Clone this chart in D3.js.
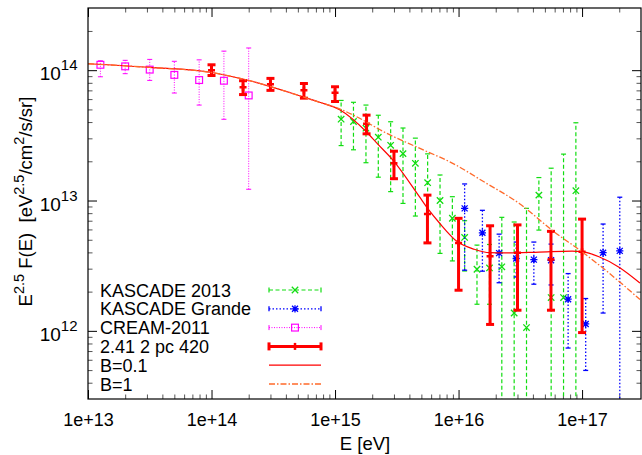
<!DOCTYPE html>
<html><head><meta charset="utf-8">
<script src="https://cdn.jsdelivr.net/npm/d3@7/dist/d3.min.js"></script>
<style>
body{margin:0;background:#fff;}
text{font-family:"Liberation Sans",Arial,Helvetica,sans-serif;fill:#000;}
</style>
</head><body>
<svg id="c" width="642" height="455"></svg>
<script>
// ---------------- data ----------------
const xTickValues = [1e13, 1e14, 1e15, 1e16, 1e17];
const xTickLabels = ["1e+13", "1e+14", "1e+15", "1e+16", "1e+17"];
const yTickValues = [1e12, 1e13, 1e14];
const yTickExponents = ["12", "13", "14"];

// KASCADE 2013
const kasE  = [1.12e15,1.41e15,1.78e15,2.24e15,2.82e15,3.55e15,4.47e15,5.62e15,7.08e15,8.91e15,1.12e16,1.41e16,1.78e16,2.24e16,2.82e16,3.55e16,4.47e16,5.62e16,7.08e16,8.91e16];
const kasF  = [4.21e13,4.04e13,3.59e13,3.06e13,2.65e13,2.29e13,1.93e13,1.37e13,1.00e13,7.31e12,5.21e12,2.97e12,3.04e12,3.10e12,1.37e12,1.06e12,1.10e13,1.80e12,1.80e12,1.19e13];
const kasHi = [5.86e13,5.67e13,5.40e13,4.51e13,4.02e13,3.60e13,3.01e13,2.28e13,1.57e13,1.07e13,7.0e12,4.55e12,4.6e12,7.43e12,6.84e12,8.71e12,1.50e13,1.77e13,2.27e13,3.95e13];
const kasLo = [2.64e13,2.45e13,1.95e13,1.51e13,1.17e13,9.5e12,7.6e12,4.69e12,3.93e12,3.44e12,2.88e12,1.60e12,1.60e12,1e11,1e11,1e11,5.93e12,1e11,1e11,1e11];

// KASCADE Grande
const graE  = [1.12e16,1.56e16,2.13e16,2.93e16,4.07e16,5.61e16,7.71e16,1.07e17,1.48e17,2.02e17];
const graF  = [8.71e12,5.65e12,3.95e12,3.59e12,3.52e12,3.48e12,1.75e12,1.13e12,3.98e12,4.11e12];
const graHi = [1.34e13,8.41e12,5.52e12,4.80e12,4.80e12,4.63e12,2.75e12,1.77e12,6.6e12,1.06e13];
const graLo = [2.92e12,2.87e12,2.34e12,2.59e12,2.28e12,2.25e12,7.38e11,4.97e11,1.37e12,1e11];

// CREAM-2011
const creE  = [1.26e13,2.0e13,3.16e13,5.0e13,7.94e13,1.26e14,2.0e14];
const creF  = [1.10e14,1.07e14,1.01e14,9.2e13,8.4e13,8.3e13,6.4e13];
const creHi = [1.18e14,1.19e14,1.21e14,1.17e14,1.20e14,1.40e14,1.48e14];
const creLo = [8.9e13,9.4e13,8.35e13,6.68e13,5.4e13,4.2e13,1.22e13];

// 2.41 2 pc 420
const modE  = [1e14,1.8e14,3e14,5.6e14,1e15,1.8e15,3e15,5.6e15,1e16,1.8e16,3e16,5.6e16,1e17];
const modF  = [1.0e14,7.4e13,7.8e13,7.0e13,6.7e13,3.88e13,1.93e13,7.87e12,4.73e12,3.74e12,3.98e12,3.53e12,4.04e12];
const modHi = [1.10e14,8.3e13,8.65e13,7.9e13,7.46e13,4.52e13,2.39e13,1.10e13,7.3e12,6.4e12,6.5e12,5.8e12,7.2e12];
const modLo = [9.1e13,6.5e13,7.0e13,6.1e13,5.75e13,3.25e13,1.47e13,4.73e12,2.05e12,1.12e12,1.44e12,1.44e12,0.97e12];

// B=0.1 curve
const b01E = [1e13,3.16e13,1e14,2.04e14,5.16e14,7.5e14,1.09e15,1.79e15,2.2e15,2.93e15,4.82e15,5.62e15,6.98e15,9.8e15,1.34e16,1.79e16,2.42e16,4.48e16,8.3e16,1e17,1.37e17,1.99e17,2.94e17];
const b01F = [1.12e14,1.05e14,9.6e13,8.3e13,6.37e13,5.67e13,4.97e13,3.37e13,2.73e13,2.05e13,1.07e13,8.7e12,6.75e12,4.82e12,4.23e12,3.98e12,3.96e12,4.02e12,4.09e12,4.05e12,3.70e12,3.08e12,2.33e12];

// B=1 curve
const b1E = [1e13,3.16e13,1e14,2.04e14,5.16e14,7.5e14,1.09e15,1.39e15,2.6e15,4.82e15,8.96e15,1.67e16,3.1e16,5.94e16,1e17,2.03e17,2.94e17];
const b1F = [1.12e14,1.05e14,9.6e13,8.3e13,6.37e13,5.67e13,5.05e13,4.55e13,3.29e13,2.52e13,1.93e13,1.36e13,9.5e12,5.75e12,4.04e12,2.36e12,1.74e12];

const legendLabels = ["KASCADE 2013","KASCADE Grande","CREAM-2011","2.41 2 pc 420","B=0.1","B=1"];

// ---------------- chart ----------------
const svg = d3.select("#c");
const L = 88, R = 641, T = 8, B = 399;
const x = d3.scaleLog().domain([1e13, 3e17]).range([L, R]);
const y = d3.scaleLog().domain([3e11, 3e14]).range([B, T]);

const col = {green:"#11dd11", blue:"#0000ff", mag:"#ff00ff", red:"#ff0000", orange:"#ff6a2a"};

function minors(dom){
  const out=[]; const lo=Math.floor(Math.log10(dom[0])), hi=Math.ceil(Math.log10(dom[1]));
  for(let e=lo;e<hi;e++) for(let m=2;m<=9;m++){const v=m*Math.pow(10,e); if(v>dom[0]&&v<dom[1]) out.push(v);}
  return out;
}
const xMin = minors(x.domain()), yMin = minors(y.domain());

function axisG(gen, tr){
  const g = svg.append("g").attr("transform", tr).call(gen);
  g.select(".domain").remove();
  g.selectAll("line").attr("stroke","#000").attr("stroke-width",1);
  return g;
}
const gb = axisG(d3.axisBottom(x).tickValues(xTickValues).tickSizeInner(-9).tickSizeOuter(0)
  .tickFormat((d,i)=>xTickLabels[i]), `translate(0,${B})`);
gb.selectAll("text").attr("y",26.5).attr("dy",null).style("font-size","18px").attr("fill","#000");
axisG(d3.axisTop(x).tickValues(xTickValues).tickSizeInner(-9).tickSizeOuter(0).tickFormat(""), `translate(0,${T})`);
const gl = axisG(d3.axisLeft(y).tickValues(yTickValues).tickSizeInner(-9).tickSizeOuter(0)
  .tickFormat(""), `translate(${L},0)`);
gl.selectAll("text").each(function(d,i){
  const t = d3.select(this).attr("x",-10.5).attr("dy",null).attr("y",9.5).attr("text-anchor","end").attr("fill","#000");
  t.text("");
  t.append("tspan").style("font-size","19px").text("10");
  t.append("tspan").attr("dy",-10).style("font-size","15px").text(yTickExponents[i]);
});
axisG(d3.axisRight(y).tickValues(yTickValues).tickSizeInner(-9).tickSizeOuter(0).tickFormat(""), `translate(${R},0)`);
[[d3.axisBottom(x).tickValues(xMin),`translate(0,${B})`],
 [d3.axisTop(x).tickValues(xMin),`translate(0,${T})`],
 [d3.axisLeft(y).tickValues(yMin),`translate(${L},0)`],
 [d3.axisRight(y).tickValues(yMin),`translate(${R},0)`]].forEach(([a,tr])=>{
  const g = axisG(a.tickSizeInner(-4.5).tickSizeOuter(0).tickFormat(""), tr);
  g.selectAll("line").attr("stroke","#555");
});

svg.append("clipPath").attr("id","clip").append("rect")
  .attr("x",L).attr("y",T).attr("width",R-L).attr("height",B-T);
const plot = svg.append("g").attr("clip-path","url(#clip)");

function errBars(E,F,Hi,Lo,o){
  const g = plot.append("g");
  E.forEach((e,i)=>{
    const xx=x(e);
    g.append("line").attr("x1",xx).attr("x2",xx).attr("y1",y(Lo[i])).attr("y2",y(Hi[i]))
      .attr("stroke",o.color).attr("stroke-width",o.w).attr("stroke-dasharray",o.dash||null);
    [Lo[i],Hi[i]].forEach(v=>{
      g.append("line").attr("x1",xx-o.cap).attr("x2",xx+o.cap).attr("y1",y(v)).attr("y2",y(v))
        .attr("stroke",o.color).attr("stroke-width",o.w);
    });
    o.marker(g, xx, y(F[i]));
  });
}
function markX(c,s){return (g,cx,cy)=>{
  g.append("path").attr("d",`M${cx-s},${cy-s}L${cx+s},${cy+s}M${cx-s},${cy+s}L${cx+s},${cy-s}`)
    .attr("stroke",c).attr("stroke-width",1.3).attr("fill","none");};}
function markStar(c,s){return (g,cx,cy)=>{
  g.append("path").attr("d",`M${cx-s},${cy-s}L${cx+s},${cy+s}M${cx-s},${cy+s}L${cx+s},${cy-s}M${cx-s*1.2},${cy}L${cx+s*1.2},${cy}M${cx},${cy-s*1.2}L${cx},${cy+s*1.2}`)
    .attr("stroke",c).attr("stroke-width",1.3).attr("fill","none");};}
function markSq(c,s){return (g,cx,cy)=>{
  g.append("rect").attr("x",cx-s).attr("y",cy-s).attr("width",2*s).attr("height",2*s)
    .attr("stroke",c).attr("stroke-width",1.2).attr("fill","none");};}
function markPlus(c,s){return (g,cx,cy)=>{
  g.append("path").attr("d",`M${cx-s},${cy}L${cx+s},${cy}M${cx},${cy-s}L${cx},${cy+s}`)
    .attr("stroke",c).attr("stroke-width",2.5).attr("fill","none");};}

errBars(kasE,kasF,kasHi,kasLo,{color:col.green,w:1.2,dash:"4,2.5",cap:2.5,marker:markX(col.green,3.2)});
errBars(graE,graF,graHi,graLo,{color:col.blue,w:1.3,dash:"1.5,2",cap:2.5,marker:markStar(col.blue,3)});
errBars(creE,creF,creHi,creLo,{color:col.mag,w:1,dash:"1,1.5",cap:2.5,marker:markSq(col.mag,3.4)});
errBars(modE,modF,modHi,modLo,{color:col.red,w:3,cap:4,marker:markPlus(col.red,3.5)});

const line = d3.line().x(d=>x(d[0])).y(d=>y(d[1])).curve(d3.curveMonotoneX);
plot.append("path").attr("d",line(b01E.map((e,i)=>[e,b01F[i]])))
  .attr("fill","none").attr("stroke",col.red).attr("stroke-width",1.2);
plot.append("path").attr("d",line(b1E.map((e,i)=>[e,b1F[i]])))
  .attr("fill","none").attr("stroke",col.orange).attr("stroke-width",1.3).attr("stroke-dasharray","6,2,1.5,2");

svg.append("rect").attr("x",L).attr("y",T).attr("width",R-L).attr("height",B-T)
  .attr("fill","none").attr("stroke","#000").attr("stroke-width",1.2);

const lg = svg.append("g");
const rowY = i => 290 + i*18.8;
const sx1 = 269, sx2 = 321, sxm = 295;
legendLabels.forEach((lab,i)=>{
  lg.append("text").attr("x",100).attr("y",rowY(i)+6.5).style("font-size","18px").text(lab);
});
function legErr(i,c,w,dash,cap,marker){
  const yy=rowY(i);
  lg.append("line").attr("x1",sx1).attr("x2",sx2).attr("y1",yy).attr("y2",yy)
    .attr("stroke",c).attr("stroke-width",w).attr("stroke-dasharray",dash||null);
  [sx1,sx2].forEach(xx=>lg.append("line").attr("x1",xx).attr("x2",xx).attr("y1",yy-cap).attr("y2",yy+cap)
    .attr("stroke",c).attr("stroke-width",w));
  marker(lg,sxm,yy);
}
legErr(0,col.green,1.2,"4,2.5",2.5,markX(col.green,3.2));
legErr(1,col.blue,1.3,"1.5,2",2.5,markStar(col.blue,3));
legErr(2,col.mag,1,"1,1.5",2.5,markSq(col.mag,3.4));
legErr(3,col.red,3,null,4,(g,cx,cy)=>g.append("line").attr("x1",cx).attr("x2",cx).attr("y1",cy-3.5).attr("y2",cy+3.5).attr("stroke",col.red).attr("stroke-width",2.5));
lg.append("line").attr("x1",sx1).attr("x2",sx2).attr("y1",rowY(4)).attr("y2",rowY(4))
  .attr("stroke",col.red).attr("stroke-width",1.2);
lg.append("line").attr("x1",sx1).attr("x2",sx2).attr("y1",rowY(5)).attr("y2",rowY(5))
  .attr("stroke",col.orange).attr("stroke-width",1.3).attr("stroke-dasharray","6,2,1.5,2");

const yl = svg.append("text").attr("transform","translate(31.5,201.5) rotate(-90)")
  .attr("text-anchor","middle").style("font-size","18.5px");
yl.append("tspan").text("E");
yl.append("tspan").attr("dy",-8).style("font-size","14.5px").text("2.5");
yl.append("tspan").attr("dy",8).text(" F(E)\u00a0 [eV");
yl.append("tspan").attr("dy",-8).style("font-size","14.5px").text("2.5");
yl.append("tspan").attr("dy",8).text("/cm");
yl.append("tspan").attr("dy",-8).style("font-size","14.5px").text("2");
yl.append("tspan").attr("dy",8).text("/s/sr]");

svg.append("text").attr("x",365).attr("y",450).attr("text-anchor","middle").style("font-size","18.5px").text("E [eV]");
</script>
</body></html>
